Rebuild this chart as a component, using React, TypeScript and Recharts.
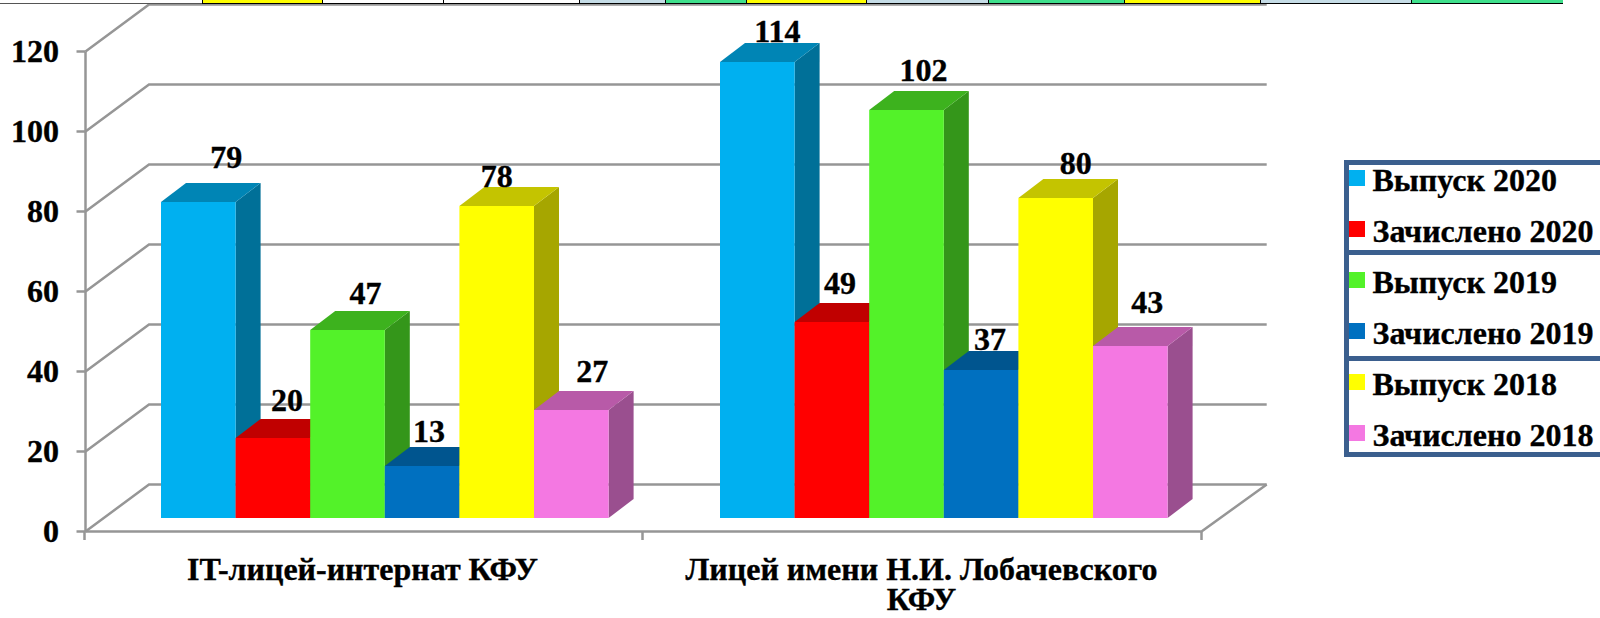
import React from 'react';
import { BarChart, Bar, XAxis, YAxis, CartesianGrid, LabelList, Legend } from 'recharts';

const categories = ['IT-лицей-интернат КФУ', 'Лицей имени Н.И. Лобачевского КФУ'];
const yTicks = [0, 20, 40, 60, 80, 100, 120];

const vypusk2020 = [79, 114];
const zach2020 = [20, 49];
const vypusk2019 = [47, 102];
const zach2019 = [13, 37];
const vypusk2018 = [78, 80];
const zach2018 = [27, 43];

const seriesNames = ['Выпуск 2020', 'Зачислено 2020', 'Выпуск 2019', 'Зачислено 2019', 'Выпуск 2018', 'Зачислено 2018'];
const seriesValues = [vypusk2020, zach2020, vypusk2019, zach2019, vypusk2018, zach2018];

const frontColors = ['#00B0F0', '#FF0000', '#53F229', '#0070C0', '#FFFF00', '#F478E2'];
const topColors = ['#0085B5', '#C00000', '#3DB21E', '#00558F', '#C4C400', '#B85AA8'];
const sideColors = ['#007098', '#A00000', '#34961A', '#004A7A', '#A6A600', '#9A4F8F'];

// hand placed labels in the original: [dx, dy from the top centre of the front face] per category
const labelNudges = [
  [[28, -34], [20, -20]],
  [[14, -27], [8, -28]],
  [[18, -26], [17, -29]],
  [[7, -24], [9, -20]],
  [[0, -19], [20, -24]],
  [[21, -28], [17, -33]],
];

// the cropped table row above the chart
const stripCells = [
  { w: 120, c: '#FFFF00' }, { w: 121, c: '#FFFFFF' }, { w: 136, c: '#FFFFFF' }, { w: 86, c: '#C5DCE6' },
  { w: 81, c: '#3FE08C' }, { w: 120, c: '#FFFF00' }, { w: 122, c: '#C5DCE6' }, { w: 136, c: '#3FE08C' },
  { w: 136, c: '#FFFF00' }, { w: 151, c: '#C5DCE6' }, { w: 152, c: '#3FE08C' },
];

const rows = categories.map((name, i) => {
  const row: Record<string, string | number> = { name };
  seriesNames.forEach((s, k) => { row[s] = seriesValues[k][i]; });
  return row;
});

const FONT = '"Liberation Serif", "Times New Roman", serif';
const GRID = '#969696';
const DEPTH_X = 25;
const DEPTH_Y = 19;
const heavy = { stroke: '#000', strokeWidth: 0.35 };

const Bar3D = (topFill: string, sideFill: string) => (props: any) => {
  const { x, y, width, height, fill } = props;
  const top = `${x},${y} ${x + DEPTH_X},${y - DEPTH_Y} ${x + width + DEPTH_X},${y - DEPTH_Y} ${x + width},${y}`;
  const side = `${x + width},${y} ${x + width + DEPTH_X},${y - DEPTH_Y} ${x + width + DEPTH_X},${y + height - DEPTH_Y} ${x + width},${y + height}`;
  return (
    <g>
      <polygon points={side} fill={sideFill} />
      <polygon points={top} fill={topFill} />
      <rect x={x} y={y} width={width} height={height} fill={fill} />
    </g>
  );
};

// each grid line runs front edge -> back wall -> right end of the back wall
const wallLine = (props: any) => {
  const { x1, x2, y1, index } = props;
  const isFloor = Math.abs(y1 - 518) < 1;
  const isTop = Math.abs(y1 - 38) < 1;
  return (
    <g key={`wall-${index}`} fill="none" stroke={GRID} strokeWidth={2.5}>
      <polyline points={`${x1 - 19.5},${y1 + 13.5} ${x1 + 44},${y1 - 33.5} ${x2 + 43.7},${y1 - 33.5}`} />
      {isTop && <line x1={x1 - 19.5} y1={y1 + 13.5} x2={x1 - 19.5} y2={532} />}
      {isFloor && <polyline points={`${x1 - 19.5},${y1 + 13.5} ${x2 - 21.5},${y1 + 13.5} ${x2 + 43.7},${y1 - 33.5}`} />}
    </g>
  );
};

const YTick = (props: any) => {
  const { y, payload } = props;
  return (
    <g>
      <line x1={85.5} y1={y + 13.5} x2={76.5} y2={y + 13.5} stroke={GRID} strokeWidth={2.5} />
      <text x={59} y={y + 24} textAnchor="end" fontFamily={FONT} fontWeight="bold" fontSize={32} fill="#000" {...heavy}>
        {payload.value}
      </text>
    </g>
  );
};

// long names break before the last word, as in the original
const splitName = (name: string) => {
  if (name.length < 25) return [name];
  const cut = name.lastIndexOf(' ');
  return [name.slice(0, cut), name.slice(cut + 1)];
};

const XTick = (props: any) => {
  const { x, payload, index } = props;
  const edges = index === 0 ? [x - 300, x + 258] : [x + 258];
  return (
    <g>
      {edges.map((ex) => (
        <line key={ex} x1={ex} y1={531} x2={ex} y2={540} stroke={GRID} strokeWidth={2.5} />
      ))}
      <text textAnchor="middle" fontFamily={FONT} fontWeight="bold" fontSize={32} fill="#000" {...heavy}>
        {splitName(payload.value).map((line, i) => (
          <tspan key={line} x={x - 22} y={580 + i * 30}>{line}</tspan>
        ))}
      </text>
    </g>
  );
};

const valueLabel = (nudges: number[][]) => (props: any) => {
  const { x, y, width, value, index } = props;
  const [dx, dy] = nudges[index];
  return (
    <text x={x + width / 2 + dx} y={y + dy} textAnchor="middle" fontFamily={FONT} fontWeight="bold" fontSize={32} fill="#000" {...heavy}>
      {value}
    </text>
  );
};

const LegendBox = (props: any) => {
  const items = props.payload ?? [];
  const frame = '#3B5F8E';
  return (
    <div style={{ position: 'relative', width: 260, height: 298, fontFamily: FONT, fontWeight: 'bold', fontSize: 32, WebkitTextStroke: '0.35px #000' }}>
      {[0, 90, 196, 292].map((t) => (
        <div key={t} style={{ position: 'absolute', left: 0, top: t, width: 260, height: 5, background: frame }} />
      ))}
      <div style={{ position: 'absolute', left: 0, top: 0, width: 5, height: 297, background: frame }} />
      {items.map((item: any, i: number) => (
        <React.Fragment key={item.value}>
          <div style={{ position: 'absolute', left: 5, top: 10 + i * 51, width: 16, height: 16, background: item.color }} />
          <div style={{ position: 'absolute', left: 29, top: 2 + i * 51, lineHeight: '36px', whiteSpace: 'nowrap', color: '#000' }}>
            {item.value}
          </div>
        </React.Fragment>
      ))}
    </div>
  );
};

export default function App() {
  return (
    <div style={{ position: 'absolute', left: 0, top: 0, width: 1600, height: 618, overflow: 'hidden', background: '#fff' }}>
      <BarChart
        width={1600}
        height={618}
        data={rows}
        margin={{ top: 38, right: 377, bottom: 50, left: 45 }}
        barGap={0}
        barSize={74.6}
      >
        <CartesianGrid horizontal={wallLine} vertical={false} />
        <XAxis dataKey="name" height={50} axisLine={false} tickLine={false} tick={XTick} interval={0} />
        <YAxis width={60} domain={[0, 120]} ticks={yTicks} axisLine={false} tickLine={false} tick={YTick} interval={0} />
        <Legend
          layout="vertical"
          align="center"
          verticalAlign="middle"
          content={LegendBox}
          itemSorter={null}
          wrapperStyle={{ left: 1343.5, top: 160, width: 260, height: 298 }}
        />
        {seriesNames.map((name, k) => (
          <Bar
            key={name}
            dataKey={name}
            fill={frontColors[k]}
            shape={Bar3D(topColors[k], sideColors[k])}
            isAnimationActive={false}
          >
            <LabelList dataKey={name} content={valueLabel(labelNudges[k])} />
          </Bar>
        ))}
      </BarChart>
      <div style={{ position: 'absolute', left: 0, top: 0, width: 202, height: 3.5, borderBottom: '1.5px solid #555', boxSizing: 'border-box' }} />
      <div style={{ position: 'absolute', left: 202, top: 0, display: 'flex', height: 3.5 }}>
        {stripCells.map((cell, i) => (
          <div
            key={i}
            style={{ width: cell.w, height: 3.5, boxSizing: 'border-box', background: cell.c, borderBottom: '1.5px solid #000', borderLeft: '1.5px solid #000' }}
          />
        ))}
      </div>
    </div>
  );
}
